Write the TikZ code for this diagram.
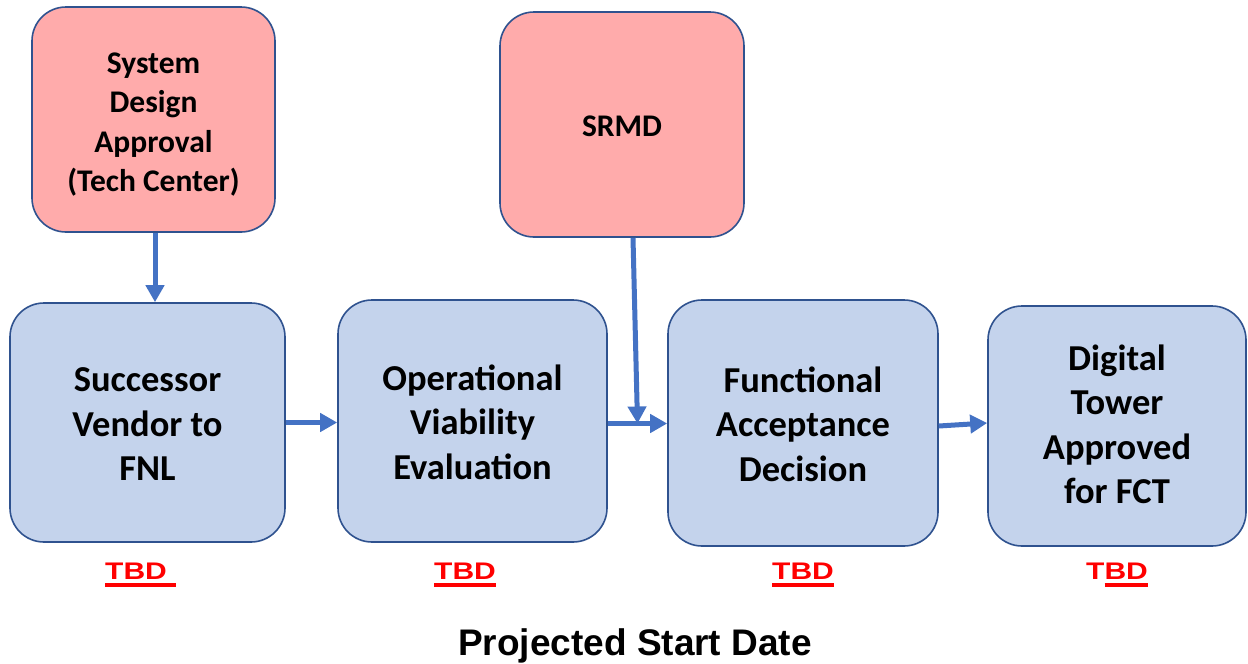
\documentclass[tikz,border=0pt]{standalone}
\usepackage{fontspec}
\usepackage{graphicx}
\setmainfont{Carlito}
\newfontfamily\arialfont{Liberation Sans}
\usetikzlibrary{arrows.meta,calc}
\definecolor{pinkfill}{RGB}{255,171,171}
\definecolor{bluefill}{RGB}{196,211,236}
\definecolor{boxborder}{RGB}{47,82,143}
\definecolor{arrowcol}{RGB}{68,114,196}
\definecolor{tbdred}{RGB}{255,0,0}
\newcommand\myul[2]{\setbox0=\hbox{#1}\rlap{\rule[-8pt]{\dimexpr\wd0+#2\relax}{4pt}}\box0}
\newcommand\stretchtxt[1]{\scalebox{1.25}[1]{#1}}
\newcommand\boxlines[2]{\raisebox{-#1}[\height][\depth]{\begin{tabular}{@{}c@{}}#2\end{tabular}}}
\tikzset{
  basebox/.style={draw=boxborder, line width=1.6pt, rounded corners=34pt, inner sep=0pt},
  pinkbox/.style={basebox, fill=pinkfill, font=\bfseries\fontsize{31.5}{39.5}\selectfont},
  bluebox/.style={basebox, fill=bluefill, font=\bfseries\fontsize{36.5}{44.5}\selectfont},
  flow/.style={draw=arrowcol, line width=5pt, -{Triangle[length=17pt,width=18pt]}},
  tbd/.style={anchor=base west, inner sep=0pt, text=tbdred, font=\arialfont\bfseries\fontsize{24}{26}\selectfont},
  footer/.style={anchor=base, inner sep=0pt, font=\arialfont\bfseries\fontsize{37}{40}\selectfont}
}
\begin{document}
\begin{tikzpicture}[x=1pt,y=-1pt]
\useasboundingbox[fill=white] (0,0) rectangle (1248,664);
\node[pinkbox, minimum width=243pt, minimum height=225pt] (sda) at (153.5,119.5) {\boxlines{5pt}{System\\Design\\Approval\\(Tech Center)}};
\node[pinkbox, minimum width=244pt, minimum height=225pt] (srmd) at (622,124.5) {\boxlines{4pt}{SRMD}};
\node[bluebox, minimum width=275pt, minimum height=239pt] (svf) at (147.5,422.5) {\boxlines{5pt}{Successor\\Vendor to\\FNL}};
\node[bluebox, minimum width=269pt, minimum height=242pt] (ove) at (472.5,421) {\boxlines{5pt}{Operational\\Viability\\Evaluation}};
\node[bluebox, minimum width=270pt, minimum height=246pt] (fad) at (803,423) {\boxlines{5pt}{Functional\\Acceptance\\Decision}};
\node[bluebox, minimum width=258pt, minimum height=240pt] (dta) at (1117,426) {\boxlines{2pt}{Digital\\Tower\\Approved\\for FCT}};

\draw[flow] ([xshift=1.5pt]sda.south) -- ([xshift=1.5pt]sda.south |- svf.north);
\draw[flow] (svf.east) -- (svf.east -| ove.west);
\draw[flow] ([yshift=-2.5pt]ove.east) -- ([yshift=-2.5pt]ove.east -| fad.west);
\coordinate (join) at ($([yshift=-2.5pt]ove.east)!0.5!([yshift=-2.5pt]ove.east -| fad.west)$);
\draw[flow] ([xshift=11pt]srmd.south) -- (join);
\draw[flow] ([yshift=-3pt]fad.east) -- ([yshift=3pt]dta.west);

\node[tbd] (t1) at (105,579) {\myul{\stretchtxt{TBD}}{9.5pt}};
\node[tbd] (t2) at (434,579) {\myul{\stretchtxt{TBD}}{0pt}};
\node[tbd] (t3) at (772,579) {\myul{\stretchtxt{TBD}}{0pt}};
\node[tbd] (t4) at (1086,579) {\stretchtxt{T}\myul{\stretchtxt{BD}}{0pt}};
\node[footer] (psd) at (635,655) {Projected Start Date};
\end{tikzpicture}
\end{document}
